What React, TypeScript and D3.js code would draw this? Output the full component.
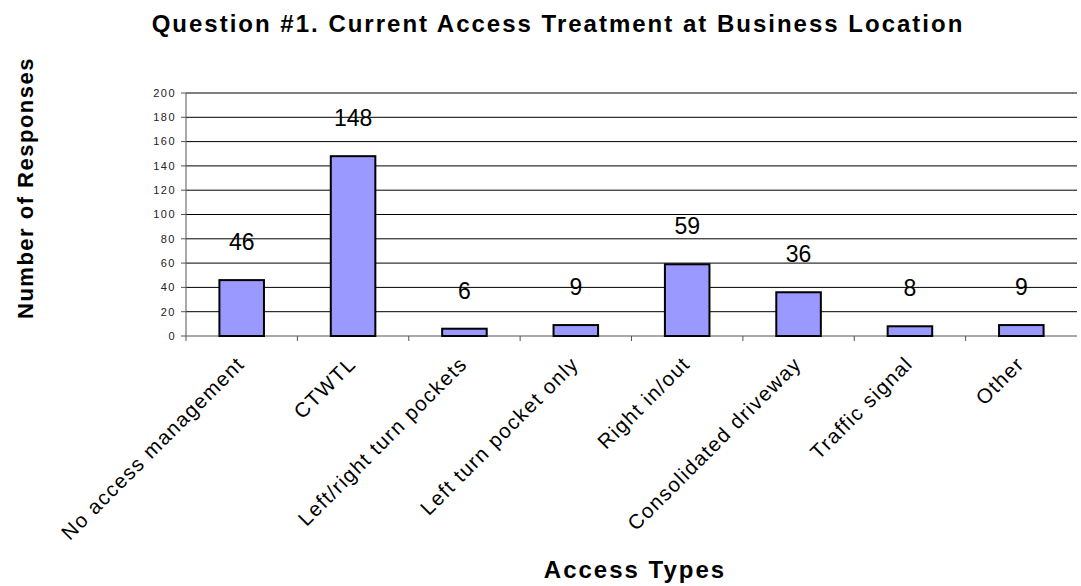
import React from "react";
import * as d3 from "d3";

const categories = [
  "No access management",
  "CTWTL",
  "Left/right turn pockets",
  "Left turn pocket only",
  "Right in/out",
  "Consolidated driveway",
  "Traffic signal",
  "Other",
];
const values = [46, 148, 6, 9, 59, 36, 8, 9];
const yTicks = [0, 20, 40, 60, 80, 100, 120, 140, 160, 180, 200];

const W = 1081;
const H = 586;
const left = 186;
const right = 1077;
const top = 93;
const bottom = 336;

export default function App() {
  const x = d3.scaleBand<string>().domain(categories).range([left, right]).paddingInner(0).paddingOuter(0);
  const y = d3.scaleLinear().domain([0, 200]).range([bottom, top]);
  const bw = x.bandwidth() * 0.4;
  const font = "Arial, 'Liberation Sans', sans-serif";
  return (
    <svg width={W} height={H} style={{ position: "absolute", left: 0, top: 0, background: "#fff" }}>
      <rect x={0} y={0} width={W} height={H} fill="#fff" />
      <text x={558} y={32} textAnchor="middle" fontFamily={font} fontWeight="bold" fontSize={24} letterSpacing={2}>
        Question #1. Current Access Treatment at Business Location
      </text>
      {yTicks.map((t) => (
        <g key={t}>
          {t > 0 && <line x1={left} x2={right} y1={y(t)} y2={y(t)} stroke="#000" strokeWidth={1} />}
          <line x1={left - 5} x2={left} y1={y(t)} y2={y(t)} stroke="#555" strokeWidth={1} />
          <text x={left - 10} y={y(t)} dy="0.35em" textAnchor="end" fontFamily={font} fontSize={11} letterSpacing={1.5} fill="#222">
            {t}
          </text>
        </g>
      ))}
      <line x1={left} x2={left} y1={top} y2={bottom} stroke="#555" strokeWidth={1} />
      <line x1={left} x2={right} y1={bottom} y2={bottom} stroke="#555" strokeWidth={1} />
      {categories.map((c, i) => (
        <line key={"t" + i} x1={x(c)!} x2={x(c)!} y1={bottom} y2={bottom + 5} stroke="#555" strokeWidth={1} />
      ))}
      {categories.map((c, i) => {
        const cx = x(c)! + x.bandwidth() / 2;
        return (
          <g key={c}>
            <rect x={cx - bw / 2} y={y(values[i])} width={bw} height={bottom - y(values[i])} fill="#9999FF" stroke="#000" strokeWidth={2} />
            <text x={cx} y={y(values[i]) - 30} textAnchor="middle" fontFamily={font} fontSize={23}>
              {values[i]}
            </text>
            <text
              transform={`translate(${cx - 6},${bottom + 19}) rotate(-45)`}
              textAnchor="end"
              dy="0.7em"
              fontFamily={font}
              fontSize={20.5}
              letterSpacing={1.4}
            >
              {c}
            </text>
          </g>
        );
      })}
      <text
        transform={`translate(33,188) rotate(-90)`}
        textAnchor="middle"
        fontFamily={font}
        fontWeight="bold"
        fontSize={22}
        letterSpacing={1.5}
      >
        Number of Responses
      </text>
      <text x={635} y={578} textAnchor="middle" fontFamily={font} fontWeight="bold" fontSize={24} letterSpacing={2}>
        Access Types
      </text>
    </svg>
  );
}
